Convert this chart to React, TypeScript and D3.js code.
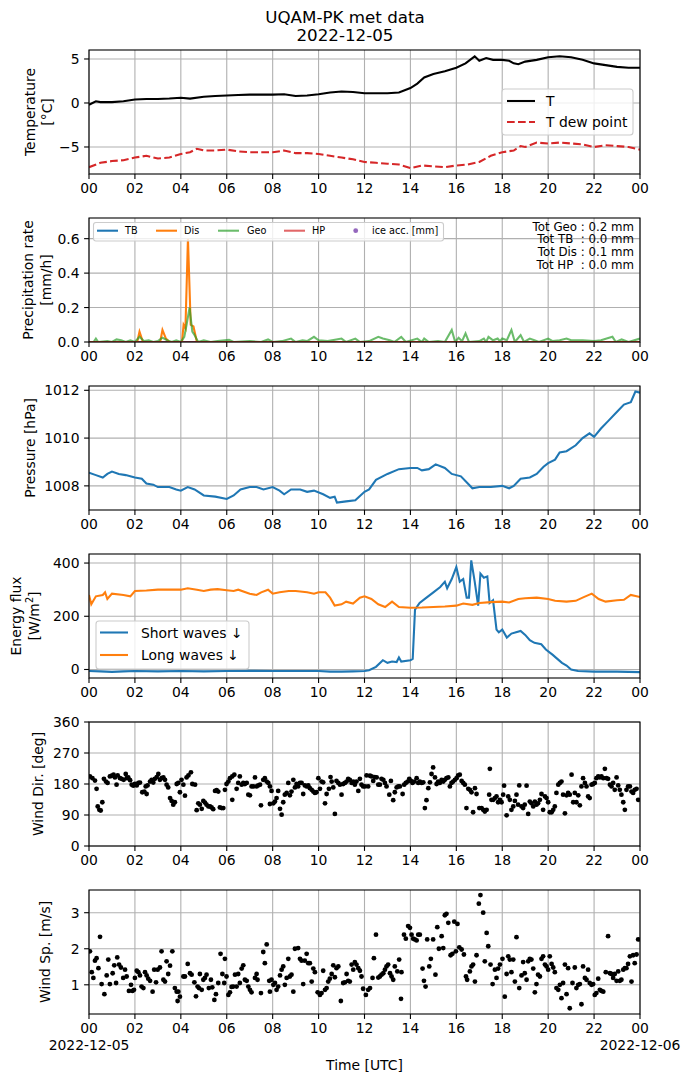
import React from "react";
import * as d3 from "d3";

type P = [number, number];

const hourTicks = [0, 2, 4, 6, 8, 10, 12, 14, 16, 18, 20, 22, 24];
const hourLabels = ["00", "02", "04", "06", "08", "10", "12", "14", "16", "18", "20", "22", "00"];

const tempT: P[] = [[0,-0.2],[0.3,0.2],[0.5,0.1],[1,0.1],[1.5,0.2],[2,0.4],[2.5,0.45],[3,0.45],[3.5,0.5],[4,0.6],[4.4,0.5],[5,0.7],[5.5,0.8],[6,0.85],[6.5,0.9],[7,0.95],[8,0.95],[8.5,1.0],[9,0.8],[9.5,0.85],[10,1.0],[10.5,1.2],[11,1.3],[11.5,1.25],[12,1.1],[12.5,1.1],[13,1.1],[13.5,1.2],[14,1.7],[14.3,2.2],[14.6,2.9],[15,3.3],[15.5,3.6],[16,4.0],[16.4,4.5],[16.8,5.3],[17,4.8],[17.3,5.1],[17.6,4.9],[18,4.9],[18.3,4.8],[18.5,4.5],[18.7,4.4],[19,4.7],[19.5,4.9],[20,5.2],[20.5,5.3],[21,5.2],[21.5,4.9],[22,4.5],[22.5,4.3],[23,4.1],[23.5,4.0],[24,4.0]];

const tempDew: P[] = [[0,-7.3],[0.5,-6.8],[1,-6.6],[1.5,-6.5],[2,-6.2],[2.5,-6.0],[3,-6.3],[3.5,-6.2],[4,-5.8],[4.4,-5.6],[4.7,-5.2],[5,-5.4],[5.5,-5.4],[6,-5.3],[6.5,-5.5],[7,-5.6],[7.5,-5.6],[8,-5.6],[8.5,-5.4],[9,-5.7],[9.5,-5.7],[10,-5.8],[10.5,-6.0],[11,-6.2],[11.5,-6.4],[12,-6.7],[12.5,-6.8],[13,-6.9],[13.5,-7.0],[14,-7.4],[14.5,-7.1],[15,-7.2],[15.5,-7.3],[16,-7.1],[16.5,-7.0],[17,-6.7],[17.5,-6.0],[18,-5.6],[18.5,-5.4],[18.8,-4.9],[19,-5.0],[19.5,-4.5],[20,-4.6],[20.5,-4.5],[21,-4.6],[21.5,-4.7],[22,-5.0],[22.5,-4.8],[23,-4.9],[23.5,-5.0],[24,-5.3]];

const precipTB: P[] = [[0,0],[24,0]];
const precipHP: P[] = [[0,0],[24,0]];
const precipDis: P[] = [[0,0],[2.1,0],[2.2,0.06],[2.35,0],[3.1,0],[3.2,0.07],[3.35,0.02],[3.5,0],[4.05,0],[4.12,0.1],[4.2,0.08],[4.31,0.6],[4.43,0.1],[4.55,0.09],[4.7,0],[24,0]];
const precipGeo: P[] = [[0,0],[0.2,0],[0.3,0.02],[0.4,0],[0.8,0.005],[1.0,0],[1.2,0.015],[1.4,0.01],[1.6,0],[1.8,0.01],[2.0,0],[2.2,0.03],[2.4,0.005],[2.6,0.01],[2.8,0],[3.0,0.005],[3.2,0.025],[3.4,0.01],[3.6,0],[3.8,0.01],[4.0,0],[4.15,0.03],[4.25,0.1],[4.38,0.2],[4.5,0.06],[4.6,0.04],[4.75,0],[5.0,0.01],[5.3,0],[5.6,0.005],[6.1,0.012],[6.3,0],[7.0,0.005],[7.5,0],[7.8,0.015],[8.0,0],[8.4,0.005],[8.8,0.02],[9.0,0],[9.3,0.01],[9.5,0.005],[9.8,0.03],[10.0,0.01],[10.4,0.005],[11.0,0.02],[11.2,0],[11.6,0.02],[11.8,0],[12.2,0.005],[12.6,0.03],[12.8,0.02],[13.1,0.01],[13.3,0],[13.6,0.03],[13.8,0],[14.3,0.02],[14.5,0],[14.6,0.02],[14.8,0],[15.2,0.005],[15.5,0],[15.8,0.07],[15.95,0],[16.1,0.025],[16.25,0.005],[16.4,0.05],[16.55,0],[17.0,0.005],[17.2,0.02],[17.3,0],[17.4,0.03],[17.6,0.01],[17.8,0.02],[17.9,0.005],[18.0,0.02],[18.2,0.01],[18.4,0.07],[18.55,0],[18.8,0.04],[18.95,0],[19.2,0.02],[19.4,0.01],[19.6,0],[20.0,0.02],[20.2,0.005],[20.5,0.01],[20.8,0.02],[21.0,0.01],[21.5,0.01],[22.0,0.005],[22.3,0.01],[22.8,0.03],[22.95,0],[23.2,0.015],[23.5,0],[24,0.02]];

const totLabels = ["Tot Geo : 0.2 mm", "Tot TB  : 0.0 mm", "Tot Dis : 0.1 mm", "Tot HP  : 0.0 mm"];

const pressure: P[] = [[0,1008.55],[0.3,1008.45],[0.6,1008.35],[0.8,1008.5],[1.0,1008.6],[1.3,1008.5],[1.6,1008.45],[2,1008.35],[2.3,1008.3],[2.5,1008.1],[2.8,1008.05],[3,1007.95],[3.5,1007.95],[3.8,1007.85],[4,1007.8],[4.3,1007.95],[4.6,1007.85],[5,1007.6],[5.5,1007.55],[6,1007.45],[6.3,1007.6],[6.6,1007.85],[7,1007.95],[7.3,1007.95],[7.6,1007.85],[8,1007.95],[8.3,1007.8],[8.5,1007.65],[8.8,1007.85],[9.2,1007.85],[9.5,1007.75],[9.8,1007.8],[10.2,1007.65],[10.5,1007.5],[10.7,1007.55],[10.8,1007.3],[11.2,1007.35],[11.6,1007.4],[12,1007.75],[12.2,1007.85],[12.5,1008.25],[13,1008.5],[13.5,1008.7],[14,1008.75],[14.3,1008.75],[14.5,1008.65],[14.8,1008.7],[15.1,1008.9],[15.5,1008.75],[15.8,1008.5],[16.2,1008.4],[16.5,1008.1],[16.7,1007.9],[17,1007.95],[17.5,1007.95],[18,1008.0],[18.3,1007.9],[18.5,1008.0],[18.8,1008.3],[19.2,1008.35],[19.5,1008.5],[19.8,1008.8],[20,1008.95],[20.3,1009.1],[20.5,1009.4],[20.8,1009.45],[21.2,1009.7],[21.5,1010.0],[21.8,1010.2],[22,1010.05],[22.3,1010.4],[22.6,1010.7],[23,1011.1],[23.3,1011.4],[23.6,1011.5],[23.8,1011.95],[24,1011.9]];

const shortWaves: P[] = [[0,-6],[0.5,-7],[1,-9],[1.5,-7],[2,-6],[3,-7],[4,-6],[5,-7],[6,-6],[7,-5],[8,-6],[9,-6],[10,-6],[10.5,-8],[11,-8],[11.5,-7],[12,-6],[12.2,-3],[12.5,10],[12.8,35],[13,25],[13.2,30],[13.4,28],[13.5,45],[13.6,30],[14,35],[14.1,40],[14.2,225],[14.4,250],[14.7,270],[15,290],[15.3,310],[15.5,330],[15.6,305],[15.8,340],[16,385],[16.15,330],[16.3,340],[16.45,270],[16.55,270],[16.65,410],[16.8,330],[16.95,240],[17.05,360],[17.2,345],[17.35,350],[17.45,250],[17.6,260],[17.75,150],[17.85,140],[18,150],[18.2,120],[18.4,135],[18.6,140],[18.8,145],[19,130],[19.2,110],[19.4,100],[19.7,95],[19.9,75],[20.2,55],[20.4,40],[20.6,25],[20.8,15],[21,0],[21.3,-6],[22,-8],[23,-8],[24,-10]];

const longWaves: P[] = [[0,280],[0.1,245],[0.3,275],[0.6,280],[0.7,290],[0.8,265],[1,285],[1.5,280],[1.8,275],[2,295],[2.5,297],[3,300],[3.5,300],[4,300],[4.3,305],[4.7,300],[5,295],[5.3,300],[5.6,302],[6,298],[6.3,295],[6.5,300],[7,285],[7.3,280],[7.5,290],[7.8,300],[8,285],[8.3,290],[8.7,295],[9,295],[9.5,290],[9.8,285],[10,290],[10.3,290],[10.5,270],[10.7,240],[11,245],[11.2,255],[11.5,248],[11.8,270],[12,275],[12.3,265],[12.6,245],[12.9,235],[13.2,255],[13.5,235],[14,232],[14.5,233],[15,235],[15.5,237],[16,240],[16.3,248],[16.7,243],[17,250],[17.5,253],[18,255],[18.3,252],[18.7,265],[19,268],[19.5,270],[20,265],[20.3,258],[20.8,255],[21.2,258],[21.5,270],[21.9,285],[22.2,265],[22.5,255],[23,260],[23.3,262],[23.6,280],[24,272]];

const windDir: P[] = [[0.04,202],[0.15,197],[0.26,190],[0.33,166],[0.38,115],[0.45,105],[0.51,103],[0.58,127],[0.65,195],[0.74,187],[0.81,183],[0.91,202],[0.99,204],[1.07,207],[1.13,199],[1.20,178],[1.25,205],[1.35,197],[1.42,195],[1.51,192],[1.60,209],[1.64,197],[1.71,199],[1.79,191],[1.86,178],[1.93,175],[2.00,180],[2.08,176],[2.15,183],[2.22,184],[2.32,156],[2.41,158],[2.51,151],[2.47,173],[2.55,176],[2.66,187],[2.73,192],[2.80,184],[2.87,195],[2.95,200],[3.02,209],[3.09,192],[3.16,197],[3.24,199],[3.31,192],[3.38,178],[3.45,170],[3.53,139],[3.60,131],[3.67,120],[3.74,127],[3.82,180],[3.89,183],[3.96,156],[4.03,192],[4.11,178],[4.18,146],[4.25,199],[4.33,205],[4.44,214],[4.50,180],[4.62,178],[4.69,104],[4.76,124],[4.83,120],[4.91,108],[4.98,131],[5.05,126],[5.12,120],[5.20,115],[5.27,115],[5.34,112],[5.41,107],[5.49,160],[5.56,162],[5.63,158],[5.70,112],[5.78,110],[5.85,110],[5.92,163],[5.99,180],[6.07,187],[6.14,197],[6.24,202],[6.33,207],[6.24,134],[6.43,166],[6.50,183],[6.57,202],[6.65,178],[6.72,183],[6.79,180],[6.87,183],[6.94,149],[7.01,147],[7.08,173],[7.16,173],[7.23,199],[7.30,173],[7.37,176],[7.45,178],[7.49,118],[7.59,192],[7.66,197],[7.74,187],[7.81,183],[7.88,173],[7.95,160],[7.88,122],[8.03,124],[8.10,129],[8.17,139],[8.24,160],[8.32,108],[8.39,91],[8.46,127],[8.53,149],[8.61,154],[8.68,183],[8.75,147],[8.82,158],[8.90,192],[8.97,170],[9.04,180],[9.11,173],[9.19,183],[9.26,183],[9.33,151],[9.40,176],[9.48,173],[9.55,176],[9.62,168],[9.70,163],[9.77,158],[9.84,154],[9.91,156],[9.99,197],[10.06,166],[10.13,187],[10.20,185],[10.28,124],[10.35,151],[10.45,166],[10.52,200],[10.57,187],[10.64,170],[10.71,93],[10.78,189],[10.86,183],[10.93,178],[11.00,149],[11.07,180],[11.15,183],[11.22,187],[11.29,195],[11.36,192],[11.44,183],[11.51,187],[11.58,178],[11.65,187],[11.73,160],[11.80,195],[11.87,178],[11.94,173],
[12.02,173],[12.09,205],[12.16,173],[12.24,204],[12.31,202],[12.38,189],[12.45,200],[12.53,199],[12.60,178],[12.67,178],[12.74,195],[12.82,192],[12.89,183],[12.96,173],[13.08,149],[13.15,189],[13.25,133],[13.32,156],[13.40,170],[13.47,173],[13.54,173],[13.66,151],[13.73,178],[13.80,183],[13.88,187],[13.95,195],[14.02,189],[14.09,183],[14.17,187],[14.27,197],[14.34,183],[14.41,187],[14.49,183],[14.56,185],[14.63,110],[14.70,133],[14.78,168],[14.85,185],[14.92,209],[14.99,228],[15.07,199],[15.14,180],[15.21,187],[15.28,183],[15.36,192],[15.43,187],[15.50,192],[15.57,197],[15.65,199],[15.72,173],[15.79,183],[15.86,187],[15.94,192],[16.01,197],[16.08,205],[16.15,207],[16.23,189],[16.30,183],[16.37,178],[16.44,110],[16.52,166],[16.59,163],[16.66,156],[16.73,98],[16.81,168],[16.88,151],[17.00,110],[17.10,110],[17.17,105],[17.24,100],[17.32,105],[17.43,149],[17.46,224],[17.53,134],[17.61,134],[17.68,139],[17.75,144],[17.82,127],[17.90,134],[17.97,127],[18.04,149],[18.08,175],[18.19,89],[18.26,144],[18.33,134],[18.40,105],[18.48,115],[18.55,131],[18.62,149],[18.69,120],[18.74,176],[18.84,115],[18.91,110],[18.98,120],[19.06,175],[19.13,93],[19.20,129],[19.27,124],[19.35,115],[19.42,129],[19.49,120],[19.56,124],[19.64,134],[19.71,151],[19.78,105],[19.86,144],[19.93,139],[20.00,127],[20.07,98],[20.15,98],[20.22,105],[20.29,115],[20.36,154],[20.44,178],[20.51,183],[20.58,187],[20.65,149],[20.73,95],[20.80,147],[20.87,154],[20.94,149],[21.02,207],[21.09,127],[21.16,154],[21.23,127],[21.31,147],[21.38,118],[21.45,173],[21.52,197],[21.60,183],[21.67,173],[21.74,144],[21.81,139],[21.89,178],[21.96,180],[22.03,183],[22.10,197],[22.18,202],[22.25,199],[22.32,202],[22.40,197],[22.47,224],[22.54,197],[22.61,195],[22.69,178],[22.76,173],[22.83,183],[22.90,163],[22.98,199],[23.05,176],[23.12,163],[23.19,149],[23.27,127],[23.34,105],[23.41,163],[23.48,173],[23.56,173],[23.63,158],[23.70,154],[23.77,163],[23.85,166],[23.92,134]];

const windSpeed: P[] = [[0.04,1.93],[0.12,1.35],[0.19,1.19],[0.26,1.67],[0.33,1.74],[0.41,1.46],[0.48,2.33],[0.55,1.02],[0.67,0.74],[0.77,1.26],[0.84,1.70],[0.91,1.02],[1.03,1.32],[1.10,1.54],[1.18,1.05],[1.23,1.76],[1.31,1.56],[1.39,1.48],[1.49,1.19],[1.57,1.42],[1.64,1.23],[1.74,0.83],[1.83,1.00],[1.89,0.83],[1.96,0.86],[2.00,1.19],[2.08,1.39],[2.15,1.35],[2.22,1.26],[2.29,0.95],[2.37,0.91],[2.44,1.35],[2.51,1.26],[2.58,1.17],[2.66,1.11],[2.77,0.81],[2.84,1.42],[2.92,1.07],[2.99,1.42],[3.09,1.48],[3.16,1.93],[3.24,1.14],[3.31,1.09],[3.38,1.65],[3.45,1.30],[3.53,1.53],[3.63,1.93],[3.74,0.91],[3.82,0.81],[3.89,0.81],[3.96,0.67],[3.86,0.55],[4.11,1.23],[4.18,1.23],[4.30,1.58],[4.40,1.32],[4.47,1.28],[4.59,1.07],[4.66,0.68],[4.73,0.95],[4.79,0.91],[4.83,1.30],[4.91,0.86],[4.98,1.14],[5.05,1.19],[5.12,1.28],[5.22,0.91],[5.31,1.14],[5.37,0.93],[5.46,0.58],[5.53,0.74],[5.63,1.05],[5.73,1.86],[5.81,1.30],[5.89,1.05],[5.92,1.72],[5.99,1.23],[6.07,0.72],[6.14,0.79],[6.21,0.94],[6.28,0.95],[6.36,1.28],[6.43,0.95],[6.50,1.30],[6.57,1.05],[6.65,1.45],[6.72,1.54],[6.79,1.14],[6.87,1.11],[6.94,0.95],[7.01,0.86],[7.08,0.79],[7.23,1.19],[7.30,1.30],[7.34,1.14],[7.49,0.77],[7.59,1.91],[7.66,1.60],[7.74,2.12],[7.85,1.11],[7.88,0.81],[7.95,1.14],[8.03,1.00],[8.10,1.05],[8.17,0.86],[8.24,0.95],[8.32,1.26],[8.39,1.42],[8.46,1.51],[8.53,1.00],[8.61,1.19],[8.68,1.72],[8.75,1.23],[8.82,1.28],[8.90,0.81],[8.97,2.00],[9.11,2.02],[9.19,1.72],[9.26,1.67],[9.33,1.02],[9.40,1.67],[9.48,1.86],[9.55,1.60],[9.62,1.60],[9.70,1.09],[9.77,1.45],[9.84,1.35],[9.96,0.79],[10.06,0.72],[10.13,0.77],[10.20,1.39],[10.28,0.86],[10.35,0.91],[10.42,1.09],[10.49,1.17],[10.57,1.30],[10.64,1.54],[10.71,1.21],[10.78,1.46],[10.86,1.51],[10.97,0.55],[11.07,1.05],[11.15,1.07],[11.22,1.30],[11.29,1.11],[11.36,1.09],[11.44,1.56],[11.51,1.42],[11.58,1.63],[11.65,1.56],[11.73,1.46],[11.80,1.39],[11.87,1.23],[11.94,0.89],
[12.06,0.72],[12.16,0.86],[12.24,0.91],[12.35,1.19],[12.41,1.74],[12.50,2.39],[12.60,1.20],[12.67,1.23],[12.74,1.28],[12.82,1.32],[12.89,1.42],[12.96,1.51],[13.03,1.56],[13.11,1.32],[13.18,1.23],[13.25,1.14],[13.32,1.51],[13.43,1.37],[13.51,1.70],[13.61,1.35],[13.59,0.61],[13.72,2.39],[13.80,2.28],[13.90,2.63],[13.98,2.58],[14.05,2.39],[14.12,2.28],[14.19,2.26],[14.27,2.23],[14.34,2.39],[14.41,2.39],[14.53,1.45],[14.59,1.11],[14.66,0.95],[14.73,2.26],[14.82,1.51],[14.89,1.72],[14.99,2.26],[15.09,1.28],[15.17,2.60],[15.24,2.00],[15.36,2.35],[15.43,2.02],[15.50,2.93],[15.57,2.97],[15.65,2.72],[15.75,1.82],[15.83,1.86],[15.91,2.75],[15.98,1.93],[16.05,2.69],[16.13,2.04],[16.23,1.98],[16.33,1.84],[16.42,1.23],[16.47,1.14],[16.59,1.37],[16.66,1.51],[16.73,1.56],[16.81,1.09],[16.88,1.82],[16.98,3.25],[17.05,3.49],[17.17,3.00],[17.24,1.65],[17.32,2.44],[17.39,2.07],[17.49,1.56],[17.58,1.02],[17.68,1.42],[17.75,1.19],[17.82,1.45],[17.90,1.56],[18.01,1.72],[18.11,0.67],[18.19,1.30],[18.26,1.79],[18.33,1.70],[18.40,1.35],[18.48,1.70],[18.55,1.09],[18.62,2.32],[18.74,0.91],[18.84,1.26],[18.91,1.63],[18.98,1.32],[19.06,1.14],[19.13,1.65],[19.20,1.72],[19.27,1.70],[19.35,1.45],[19.42,0.79],[19.49,1.02],[19.56,1.28],[19.64,1.23],[19.71,1.72],[19.78,1.79],[19.86,1.56],[19.93,1.51],[20.00,1.42],[20.07,1.79],[20.15,1.58],[20.22,1.48],[20.29,1.35],[20.36,0.91],[20.44,0.86],[20.51,1.00],[20.58,0.63],[20.65,1.05],[20.73,1.56],[20.80,0.74],[20.87,1.46],[20.94,0.35],[21.06,1.05],[21.16,1.48],[21.23,0.91],[21.31,1.00],[21.38,1.02],[21.45,0.46],[21.52,1.51],[21.60,1.19],[21.67,1.14],[21.74,1.42],[21.81,1.05],[21.89,1.00],[21.96,1.02],[22.03,0.72],[22.10,0.77],[22.18,1.17],[22.25,0.86],[22.32,0.83],[22.40,0.81],[22.51,1.35],[22.61,2.35],[22.69,1.32],[22.76,1.30],[22.83,1.19],[22.90,1.30],[22.98,1.11],[23.05,1.37],[23.12,1.11],[23.19,1.14],[23.27,1.42],[23.34,1.46],[23.41,1.46],[23.48,1.58],[23.56,1.79],[23.63,1.09],[23.70,1.82],[23.77,1.60],[23.85,1.84],[23.92,2.26]];

const FONT = "'DejaVu Sans', sans-serif";
const LEFT = 89;
const RIGHT = 640;
const PH = 124;
const GRID = "#b0b0b0";
const FS = 13.9;

const x = d3.scaleLinear().domain([0, 24]).range([LEFT, RIGHT]);

interface AxesProps {
  id: string;
  top: number;
  domain: [number, number];
  ticks: number[];
  fmt: (v: number) => string;
  label: React.ReactNode;
  bottomDates?: boolean;
  render: (y: d3.ScaleLinear<number, number>) => React.ReactNode;
  overlay?: (y: d3.ScaleLinear<number, number>) => React.ReactNode;
}

function Axes({ id, top, domain, ticks, fmt, label, bottomDates, render, overlay }: AxesProps) {
  const bottom = top + PH;
  const y = d3.scaleLinear().domain(domain).range([bottom, top]);
  return (
    <g>
      <defs>
        <clipPath id={id}>
          <rect x={LEFT} y={top} width={RIGHT - LEFT} height={PH} />
        </clipPath>
      </defs>
      {hourTicks.map((h) => (
        <line key={"gx" + h} x1={x(h)} x2={x(h)} y1={top} y2={bottom} stroke={GRID} strokeWidth={1.1} />
      ))}
      {ticks.map((t) => (
        <line key={"gy" + t} x1={LEFT} x2={RIGHT} y1={y(t)} y2={y(t)} stroke={GRID} strokeWidth={1.1} />
      ))}
      <g clipPath={`url(#${id})`}>{render(y)}</g>
      <rect x={LEFT} y={top} width={RIGHT - LEFT} height={PH} fill="none" stroke="#000" strokeWidth={1.1} />
      {hourTicks.map((h, i) => (
        <g key={"tx" + h}>
          <line x1={x(h)} x2={x(h)} y1={bottom} y2={bottom + 4.9} stroke="#000" strokeWidth={1.1} />
          <text x={x(h)} y={bottom + 19} textAnchor="middle" fontSize={FS} fontFamily={FONT}>
            {hourLabels[i]}
          </text>
        </g>
      ))}
      {bottomDates && (
        <g fontSize={FS} fontFamily={FONT} textAnchor="middle">
          <text x={x(0)} y={bottom + 36}>2022-12-05</text>
          <text x={x(24)} y={bottom + 36}>2022-12-06</text>
        </g>
      )}
      {ticks.map((t) => (
        <g key={"ty" + t}>
          <line x1={LEFT - 4.9} x2={LEFT} y1={y(t)} y2={y(t)} stroke="#000" strokeWidth={1.1} />
          <text x={LEFT - 9.5} y={y(t) + 5} textAnchor="end" fontSize={FS} fontFamily={FONT}>
            {fmt(t)}
          </text>
        </g>
      ))}
      {label}
      {overlay && overlay(y)}
    </g>
  );
}

function YLabel({ x0, mid, children }: { x0: number; mid: number; children: React.ReactNode }) {
  return (
    <text
      transform={`translate(${x0},${mid}) rotate(-90)`}
      textAnchor="middle"
      dominantBaseline="central"
      fontSize={FS}
      fontFamily={FONT}
    >
      {children}
    </text>
  );
}

const tops = [50, 218, 386, 554, 722, 890];
const mid = (i: number) => tops[i] + PH / 2;

export default function App() {
  const mkLine = (y: d3.ScaleLinear<number, number>) =>
    d3
      .line<P>()
      .x((d) => x(d[0]))
      .y((d) => y(d[1]));
  const minus = (v: number) => (v < 0 ? "\u2212" + Math.abs(v) : String(v));

  return (
    <svg
      width={690}
      height={1083}
      style={{ position: "absolute", left: 0, top: 0, background: "#fff" }}
      fontFamily={FONT}
    >
      <rect x={0} y={0} width={690} height={1083} fill="#fff" />
      <text x={345} y={22.5} textAnchor="middle" fontSize={16.7}>UQAM-PK met data</text>
      <text x={345} y={41} textAnchor="middle" fontSize={16.7}>2022-12-05</text>

      {/* Panel 1: temperature */}
      <Axes
        id="c1"
        top={tops[0]}
        domain={[-8.07, 6.02]}
        ticks={[-5, 0, 5]}
        fmt={minus}
        label={
          <g>
            <YLabel x0={30} mid={mid(0)}>Temperature</YLabel>
            <YLabel x0={47} mid={mid(0)}>[°C]</YLabel>
          </g>
        }
        render={(y) => (
          <g fill="none">
            <path d={mkLine(y)(tempT) || ""} stroke="#000" strokeWidth={2.08} />
            <path d={mkLine(y)(tempDew) || ""} stroke="#d62728" strokeWidth={2.08} strokeDasharray="7.7 3.3" />
          </g>
        )}
        overlay={() => (
          <g>
            <rect x={502} y={89} width={131} height={46} rx={3} fill="#fff" fillOpacity={0.8} stroke="#cccccc" strokeWidth={1.1} />
            <line x1={507} x2={535} y1={101} y2={101} stroke="#000" strokeWidth={2.08} />
            <text x={546} y={106} fontSize={FS}>T</text>
            <line x1={507} x2={535} y1={122} y2={122} stroke="#d62728" strokeWidth={2.08} strokeDasharray="7.7 3.3" />
            <text x={546} y={127} fontSize={FS}>T dew point</text>
          </g>
        )}
      />

      {/* Panel 2: precipitation */}
      <Axes
        id="c2"
        top={tops[1]}
        domain={[0, 0.72]}
        ticks={[0, 0.2, 0.4, 0.6]}
        fmt={(v) => v.toFixed(1)}
        label={
          <g>
            <YLabel x0={28} mid={mid(1)}>Precipitation rate</YLabel>
            <YLabel x0={46} mid={mid(1)}>[mm/h]</YLabel>
          </g>
        }
        render={(y) => (
          <g fill="none">
            <path d={mkLine(y)(precipTB) || ""} stroke="#1f77b4" strokeWidth={2.08} />
            <path d={mkLine(y)(precipDis) || ""} stroke="#ff7f0e" strokeWidth={2.08} />
            <path d={mkLine(y)(precipGeo) || ""} stroke="#2ca02c" strokeOpacity={0.7} strokeWidth={2.08} />
            <path d={mkLine(y)(precipHP) || ""} stroke="#d62728" strokeOpacity={0.7} strokeWidth={2.08} />
          </g>
        )}
        overlay={() => (
          <g>
            <rect x={93.5} y={222.5} width={350} height={18.5} rx={2.5} fill="#fff" fillOpacity={0.8} stroke="#cccccc" strokeWidth={1.1} />
            <g fontSize={9.7}>
              <line x1={97} x2={118} y1={230.7} y2={230.7} stroke="#1f77b4" strokeWidth={2.08} />
              <text x={125} y={234.2}>TB</text>
              <line x1={156} x2={177} y1={230.7} y2={230.7} stroke="#ff7f0e" strokeWidth={2.08} />
              <text x={184} y={234.2}>Dis</text>
              <line x1={218} x2={239} y1={230.7} y2={230.7} stroke="#2ca02c" strokeOpacity={0.7} strokeWidth={2.08} />
              <text x={247} y={234.2}>Geo</text>
              <line x1={284} x2={305} y1={230.7} y2={230.7} stroke="#d62728" strokeOpacity={0.7} strokeWidth={2.08} />
              <text x={312} y={234.2}>HP</text>
              <circle cx={355.7} cy={230.7} r={2.4} fill="#9467bd" />
              <text x={372} y={234.2}>ice acc. [mm]</text>
            </g>
            <g fontSize={11.8} textAnchor="end" style={{ whiteSpace: "pre" }}>
              {totLabels.map((t, i) => (
                <text key={t} x={634} y={230.5 + i * 12.8} style={{ whiteSpace: "pre" }}>
                  {t}
                </text>
              ))}
            </g>
          </g>
        )}
      />

      {/* Panel 3: pressure */}
      <Axes
        id="c3"
        top={tops[2]}
        domain={[1006.99, 1012.18]}
        ticks={[1008, 1010, 1012]}
        fmt={(v) => String(v)}
        label={<YLabel x0={30} mid={mid(2)}>Pressure [hPa]</YLabel>}
        render={(y) => (
          <path d={mkLine(y)(pressure) || ""} fill="none" stroke="#1f77b4" strokeWidth={2.08} />
        )}
      />

      {/* Panel 4: energy flux */}
      <Axes
        id="c4"
        top={tops[3]}
        domain={[-32, 434]}
        ticks={[0, 200, 400]}
        fmt={(v) => String(v)}
        label={
          <g>
            <YLabel x0={16} mid={mid(3)}>Energy flux</YLabel>
            <YLabel x0={34} mid={mid(3)}>
              [W/m<tspan dy={-5} fontSize={9.7}>2</tspan>
              <tspan dy={5}>]</tspan>
            </YLabel>
          </g>
        }
        render={(y) => (
          <g fill="none">
            <path d={mkLine(y)(shortWaves) || ""} stroke="#1f77b4" strokeWidth={2.08} />
            <path d={mkLine(y)(longWaves) || ""} stroke="#ff7f0e" strokeWidth={2.08} />
          </g>
        )}
        overlay={() => (
          <g>
            <rect x={96} y={621} width={153} height={48} rx={3} fill="#fff" fillOpacity={0.8} stroke="#cccccc" strokeWidth={1.1} />
            <line x1={100} x2={128} y1={632.5} y2={632.5} stroke="#1f77b4" strokeWidth={2.08} />
            <text x={141} y={637.5} fontSize={FS}>Short waves ↓</text>
            <line x1={100} x2={128} y1={655} y2={655} stroke="#ff7f0e" strokeWidth={2.08} />
            <text x={141} y={660} fontSize={FS}>Long waves ↓</text>
          </g>
        )}
      />

      {/* Panel 5: wind direction */}
      <Axes
        id="c5"
        top={tops[4]}
        domain={[0, 360]}
        ticks={[0, 90, 180, 270, 360]}
        fmt={(v) => String(v)}
        label={<YLabel x0={38} mid={mid(4)}>Wind Dir. [deg]</YLabel>}
        render={(y) => (
          <g fill="#000">
            {windDir.map((d, i) => (
              <circle key={i} cx={x(d[0])} cy={y(d[1])} r={2.4} />
            ))}
          </g>
        )}
      />

      {/* Panel 6: wind speed */}
      <Axes
        id="c6"
        top={tops[5]}
        domain={[0.19, 3.63]}
        ticks={[1, 2, 3]}
        fmt={(v) => String(v)}
        bottomDates
        label={<YLabel x0={45} mid={mid(5)}>Wind Sp. [m/s]</YLabel>}
        render={(y) => (
          <g fill="#000">
            {windSpeed.map((d, i) => (
              <circle key={i} cx={x(d[0])} cy={y(d[1])} r={2.4} />
            ))}
          </g>
        )}
      />

      <text x={364.5} y={1070} textAnchor="middle" fontSize={FS}>Time [UTC]</text>
    </svg>
  );
}
